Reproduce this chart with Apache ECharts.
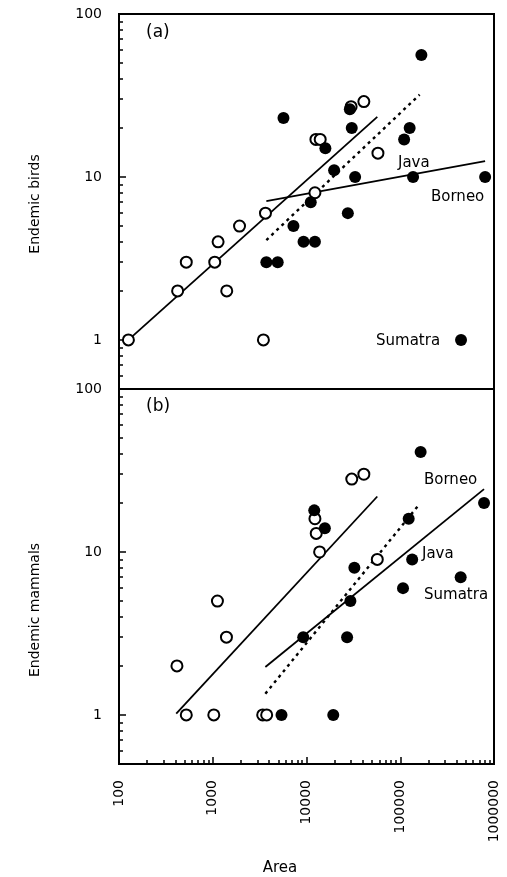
<!DOCTYPE html>
<html>
<head>
<meta charset="utf-8">
<script src="https://cdn.jsdelivr.net/npm/echarts@6/dist/echarts.min.js"></script>
<style>
  html, body { margin: 0; background: #fff; }
  #chart { width: 507px; height: 877px; }
</style>
</head>
<body>
<div id="chart"></div>
<script>
  // (a) endemic birds vs area
  const birdsOpen = [
    [126, 1], [422, 2], [522, 3], [1050, 3], [1140, 4], [1410, 2], [1930, 5],
    [3470, 1], [3650, 6], [12300, 8], [12600, 17], [14000, 17], [29900, 27],
    [40900, 29], [57800, 14],
  ]
  const birdsFilled = [
    [5680, 23], [3730, 3], [4930, 3], [7260, 5], [9300, 4], [12300, 4],
    [11100, 7], [15900, 15], [19700, 11], [29000, 26], [30400, 20], [27600, 6],
    [33000, 10], [110000, 17], [126000, 20], [168000, 56], [137000, 10],
    [804000, 10], [445000, 1],
  ]
  const birdsFitOpen = [[126, 1], [56900, 23.4]]
  const birdsFitFilled = [[3730, 7.1], [804000, 12.5]]
  const birdsFitDotted = [[3730, 4.1], [161000, 32]]

  // (b) endemic mammals vs area
  const mammalsOpen = [
    [415, 2], [522, 1], [1026, 1], [1122, 5], [1400, 3], [3410, 1], [3760, 1],
    [12300, 16], [12700, 13], [13800, 10], [30400, 28], [40900, 30], [56900, 9],
  ]
  const mammalsFilled = [
    [5410, 1], [19300, 1], [12100, 18], [15700, 14], [9230, 3], [27100, 3],
    [29400, 5], [32400, 8], [107000, 6], [123000, 16], [134000, 9],
    [165000, 41], [441000, 7], [783000, 20],
  ]
  const mammalsFitOpen = [[408, 1.02], [56900, 21.9]]
  const mammalsFitFilled = [[3640, 1.97], [783000, 24.3]]
  const mammalsFitDotted = [[3640, 1.35], [155000, 19.2]]

  const xMajor = [100, 1000, 10000, 100000, 1000000]
  const xMinor = [100, 1000, 10000, 100000].flatMap((d) => [2, 3, 4, 5, 6, 7, 8, 9].map((k) => k * d))
  const yMajor = [1, 10, 100]
  const yMinor = [0.6, 0.7, 0.8, 0.9, 2, 3, 4, 5, 6, 7, 8, 9, 20, 30, 40, 50, 60, 70, 80, 90]

  const font = 'DejaVu Sans'
  const ink = '#000'

  const chart = echarts.init(document.getElementById('chart'))

  // ticks point into the plot: negative length flips them
  function xAxisFor(gridIndex, withLabels, minor) {
    return {
      type: 'log',
      logBase: 10,
      gridIndex,
      position: 'bottom',
      min: 100,
      max: 1000000,
      axisLine: { show: !minor, onZero: false, lineStyle: { color: ink, width: 2 } },
      axisTick: {
        show: withLabels,
        inside: false,
        length: minor ? -4 : -7,
        customValues: minor ? xMinor : xMajor,
        lineStyle: { color: ink, width: 1.5 },
      },
      axisLabel: {
        show: withLabels && !minor,
        customValues: xMajor,
        rotate: 90,
        margin: 16,
        color: ink,
        fontFamily: font,
        fontSize: 14,
        formatter: (v) => String(v),
      },
      splitLine: { show: false },
      minorTick: { show: false },
    }
  }

  function yAxisFor(gridIndex, minor) {
    return {
      type: 'log',
      logBase: 10,
      gridIndex,
      position: 'left',
      min: 0.5,
      max: 100,
      axisLine: { show: !minor, onZero: false, lineStyle: { color: ink, width: 2 } },
      axisTick: {
        show: true,
        inside: false,
        length: minor ? -4 : -7,
        customValues: minor ? yMinor : yMajor,
        lineStyle: { color: ink, width: 1.5 },
      },
      axisLabel: {
        show: !minor,
        customValues: yMajor,
        margin: 17,
        color: ink,
        fontFamily: font,
        fontSize: 14,
        formatter: (v) => String(v),
      },
      splitLine: { show: false },
      minorTick: { show: false },
    }
  }

  const openStyle = { color: '#fff', borderColor: ink, borderWidth: 2, opacity: 1 }
  const filledStyle = { color: ink, opacity: 1 }

  function scatter(data, open, xi, yi) {
    return {
      type: 'scatter',
      xAxisIndex: xi,
      yAxisIndex: yi,
      data,
      symbol: 'circle',
      symbolSize: open ? 11 : 12,
      itemStyle: open ? openStyle : filledStyle,
      z: 5,
      silent: true,
    }
  }

  function fit(data, dotted, xi, yi) {
    return {
      type: 'line',
      xAxisIndex: xi,
      yAxisIndex: yi,
      data,
      symbol: 'none',
      lineStyle: { color: ink, width: dotted ? 2.4 : 1.8, type: dotted ? [3, 4] : 'solid' },
      z: 3,
      silent: true,
    }
  }

  chart.setOption({
    animation: false,
    backgroundColor: '#fff',
    textStyle: { fontFamily: font },
    grid: [
      { left: 119, top: 14, width: 375, height: 375, show: true, borderColor: ink, borderWidth: 2 },
      { left: 119, top: 389, width: 375, height: 375, show: true, borderColor: ink, borderWidth: 2 },
    ],
    xAxis: [xAxisFor(0, false, false), xAxisFor(1, true, false), xAxisFor(1, true, true)],
    yAxis: [yAxisFor(0, false), yAxisFor(0, true), yAxisFor(1, false), yAxisFor(1, true)],
    series: [
      fit(birdsFitOpen, false, 0, 0),
      fit(birdsFitFilled, false, 0, 0),
      fit(birdsFitDotted, true, 0, 0),
      scatter(birdsOpen, true, 0, 0),
      scatter(birdsFilled, false, 0, 0),
      fit(mammalsFitOpen, false, 1, 2),
      fit(mammalsFitFilled, false, 1, 2),
      fit(mammalsFitDotted, true, 1, 2),
      scatter(mammalsOpen, true, 1, 2),
      scatter(mammalsFilled, false, 1, 2),
    ],
    graphic: [
      { type: 'text', left: 146, top: 24, style: { text: '(a)', font: '17px DejaVu Sans', fill: ink } },
      { type: 'text', left: 146, top: 398, style: { text: '(b)', font: '17px DejaVu Sans', fill: ink } },
      { type: 'text', left: 398, top: 156, style: { text: 'Java', font: '15px DejaVu Sans', fill: ink } },
      { type: 'text', left: 431, top: 190, style: { text: 'Borneo', font: '15px DejaVu Sans', fill: ink } },
      { type: 'text', left: 376, top: 334, style: { text: 'Sumatra', font: '15px DejaVu Sans', fill: ink } },
      { type: 'text', left: 424, top: 473, style: { text: 'Borneo', font: '15px DejaVu Sans', fill: ink } },
      { type: 'text', left: 422, top: 547, style: { text: 'Java', font: '15px DejaVu Sans', fill: ink } },
      { type: 'text', left: 424, top: 588, style: { text: 'Sumatra', font: '15px DejaVu Sans', fill: ink } },
      {
        type: 'text', x: 35, y: 204, rotation: Math.PI / 2,
        style: { text: 'Endemic birds', font: '14px DejaVu Sans', fill: ink, align: 'center', verticalAlign: 'middle' },
      },
      {
        type: 'text', x: 35, y: 610, rotation: Math.PI / 2,
        style: { text: 'Endemic mammals', font: '14px DejaVu Sans', fill: ink, align: 'center', verticalAlign: 'middle' },
      },
      {
        type: 'text', x: 280, y: 868,
        style: { text: 'Area', font: '15px DejaVu Sans', fill: ink, align: 'center', verticalAlign: 'middle' },
      },
    ],
  })
</script>
</body>
</html>
